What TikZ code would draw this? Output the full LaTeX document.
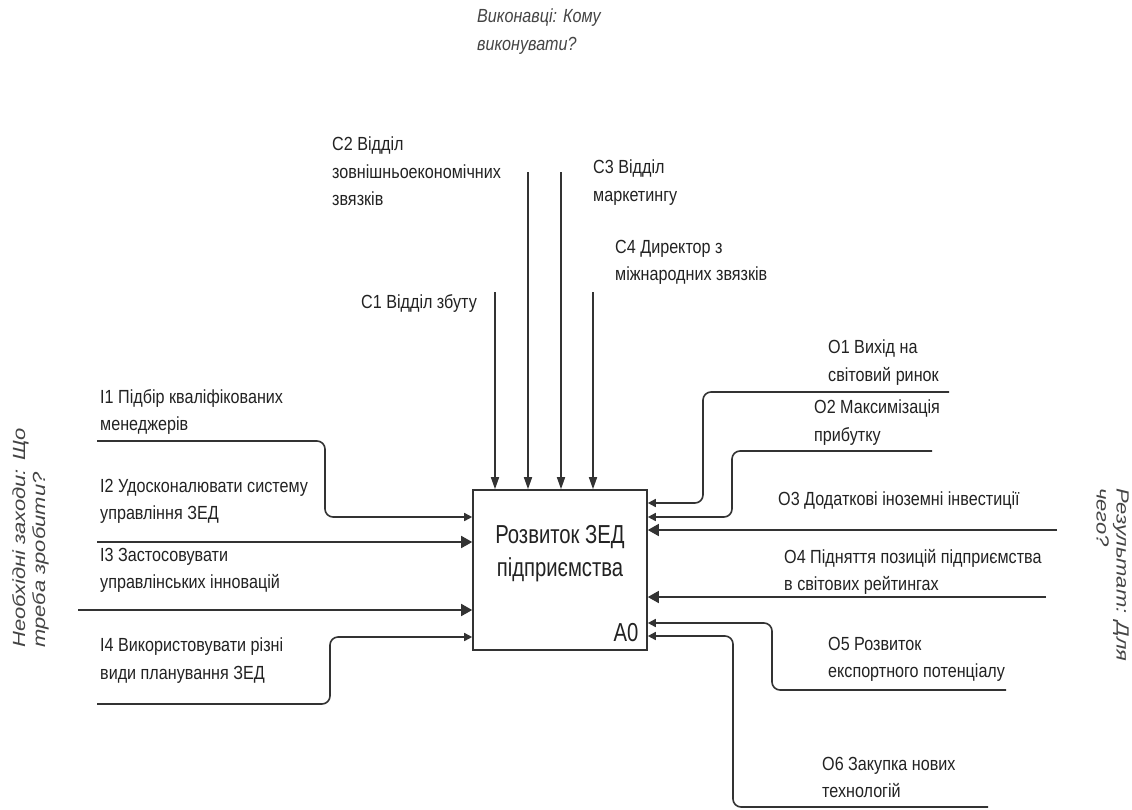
\documentclass[tikz,border=0pt]{standalone}
\usepackage{fontspec}
\setmainfont{Liberation Sans}[FakeStretch=0.85]
\newfontfamily\rotfont{Liberation Sans}
\newfontfamily\boxfont{Liberation Sans}[FakeStretch=0.78]
\usetikzlibrary{arrows.meta}
\definecolor{ink}{HTML}{222222}
\definecolor{wire}{HTML}{333333}
\definecolor{note}{HTML}{444444}
\tikzset{
  lbl/.style={anchor=north west, inner sep=0pt, align=left, text=ink, font=\fontsize{19}{27.5}\selectfont},
  notetxt/.style={inner sep=0pt, align=left, text=note, font=\fontsize{19}{28}\selectfont\itshape},
  rottxt/.style={inner sep=0pt, align=left, text=note, font=\rotfont\fontsize{22}{25}\selectfont\itshape},
  wireline/.style={draw=wire, line width=1.6pt},
  arrtop/.style={wireline, -{Triangle[length=12pt,width=8pt]}},
  arrbig/.style={wireline, -{Triangle[length=11pt,width=12pt]}},
  arrsm/.style={wireline, -{Triangle[length=8pt,width=8pt]}, rounded corners=8pt},
  fbox/.style={draw=wire, line width=1.6pt, minimum width=174pt, minimum height=160pt, inner sep=0pt},
}
\begin{document}
\begin{tikzpicture}[x=1pt,y=-1pt]
\useasboundingbox (0,0) rectangle (1132,809);
% main box
\node[fbox] (a0) at (560,570) {};
\node[inner sep=0pt, align=center, text=ink, font=\boxfont\fontsize{26}{33}\selectfont] (a0t) at (560,554) {Розвиток ЗЕД\\підприємства};
\node[inner sep=0pt, text=ink, font=\boxfont\fontsize{26}{30}\selectfont] (a0n) at (626,633) {A0};
% headings
\node[notetxt, anchor=north west] (hc) at (477,9) {Виконавці: Кому\\виконувати?};
\node[rottxt, rotate=90, yscale=0.8, anchor=north west] (hi) at (12,648) {Необхідні заходи: Що\\треба зробити?};
\node[rottxt, rotate=-90, yscale=0.8, anchor=north west] (ho) at (1129,488) {Результат: Для\\чего?};
% controls
\coordinate (c1s) at (495,292);
\coordinate (c2s) at (528,172);
\coordinate (c3s) at (561,172);
\coordinate (c4s) at (593,292);
\draw[arrtop] (c1s) -- (c1s |- a0.north);
\draw[arrtop] (c2s) -- (c2s |- a0.north);
\draw[arrtop] (c3s) -- (c3s |- a0.north);
\draw[arrtop] (c4s) -- (c4s |- a0.north);
\node[lbl] (c1) at (361,294) {C1 Відділ збуту};
\node[lbl] (c2) at (332,137) {C2 Відділ\\зовнішньоекономічних\\звязків};
\node[lbl] (c3) at (593,160) {C3 Відділ\\маркетингу};
\node[lbl] (c4) at (615,240) {C4 Директор з\\міжнародних звязків};
% inputs
\coordinate (i1s) at (97,441);
\coordinate (i2s) at (97,542);
\coordinate (i3s) at (78,610);
\coordinate (i4s) at (97,704);
\draw[arrsm] (i1s) -| (325,517) -- (a0.west |- 0,517);
\draw[arrbig] (i2s) -- (a0.west |- i2s);
\draw[arrbig] (i3s) -- (a0.west |- i3s);
\draw[arrsm] (i4s) -| (330,637) -- (a0.west |- 0,637);
\node[lbl] (i1) at (100,389) {I1 Підбір кваліфікованих\\менеджерів};
\node[lbl] (i2) at (100,479) {I2 Удосконалювати систему\\управління ЗЕД};
\node[lbl] (i3) at (100,548) {I3 Застосовувати\\управлінських інновацій};
\node[lbl] (i4) at (100,638) {I4 Використовувати різні\\види планування ЗЕД};
% outputs
\coordinate (o1s) at (949,392);
\coordinate (o2s) at (932,451);
\coordinate (o3s) at (1057,530);
\coordinate (o4s) at (1046,597);
\coordinate (o5s) at (1006,690);
\coordinate (o6s) at (988,807);
\draw[arrsm] (o1s) -| (703,503) -- (a0.east |- 0,503);
\draw[arrsm] (o2s) -| (732,517) -- (a0.east |- 0,517);
\draw[arrbig] (o3s) -- (a0.east |- o3s);
\draw[arrbig] (o4s) -- (a0.east |- o4s);
\draw[arrsm] (o5s) -| (772,623) -- (a0.east |- 0,623);
\draw[arrsm] (o6s) -| (733,636) -- (a0.east |- 0,636);
\node[lbl] (o1) at (828,340) {O1 Вихід на\\світовий ринок};
\node[lbl] (o2) at (814,400) {O2 Максимізація\\прибутку};
\node[lbl] (o3) at (778,492) {O3 Додаткові іноземні інвестиції};
\node[lbl] (o4) at (784,549) {O4 Підняття позицій підприємства\\в світових рейтингах};
\node[lbl] (o5) at (828,637) {O5 Розвиток\\експортного потенціалу};
\node[lbl] (o6) at (822,757) {O6 Закупка нових\\технологій};
\end{tikzpicture}
\end{document}
